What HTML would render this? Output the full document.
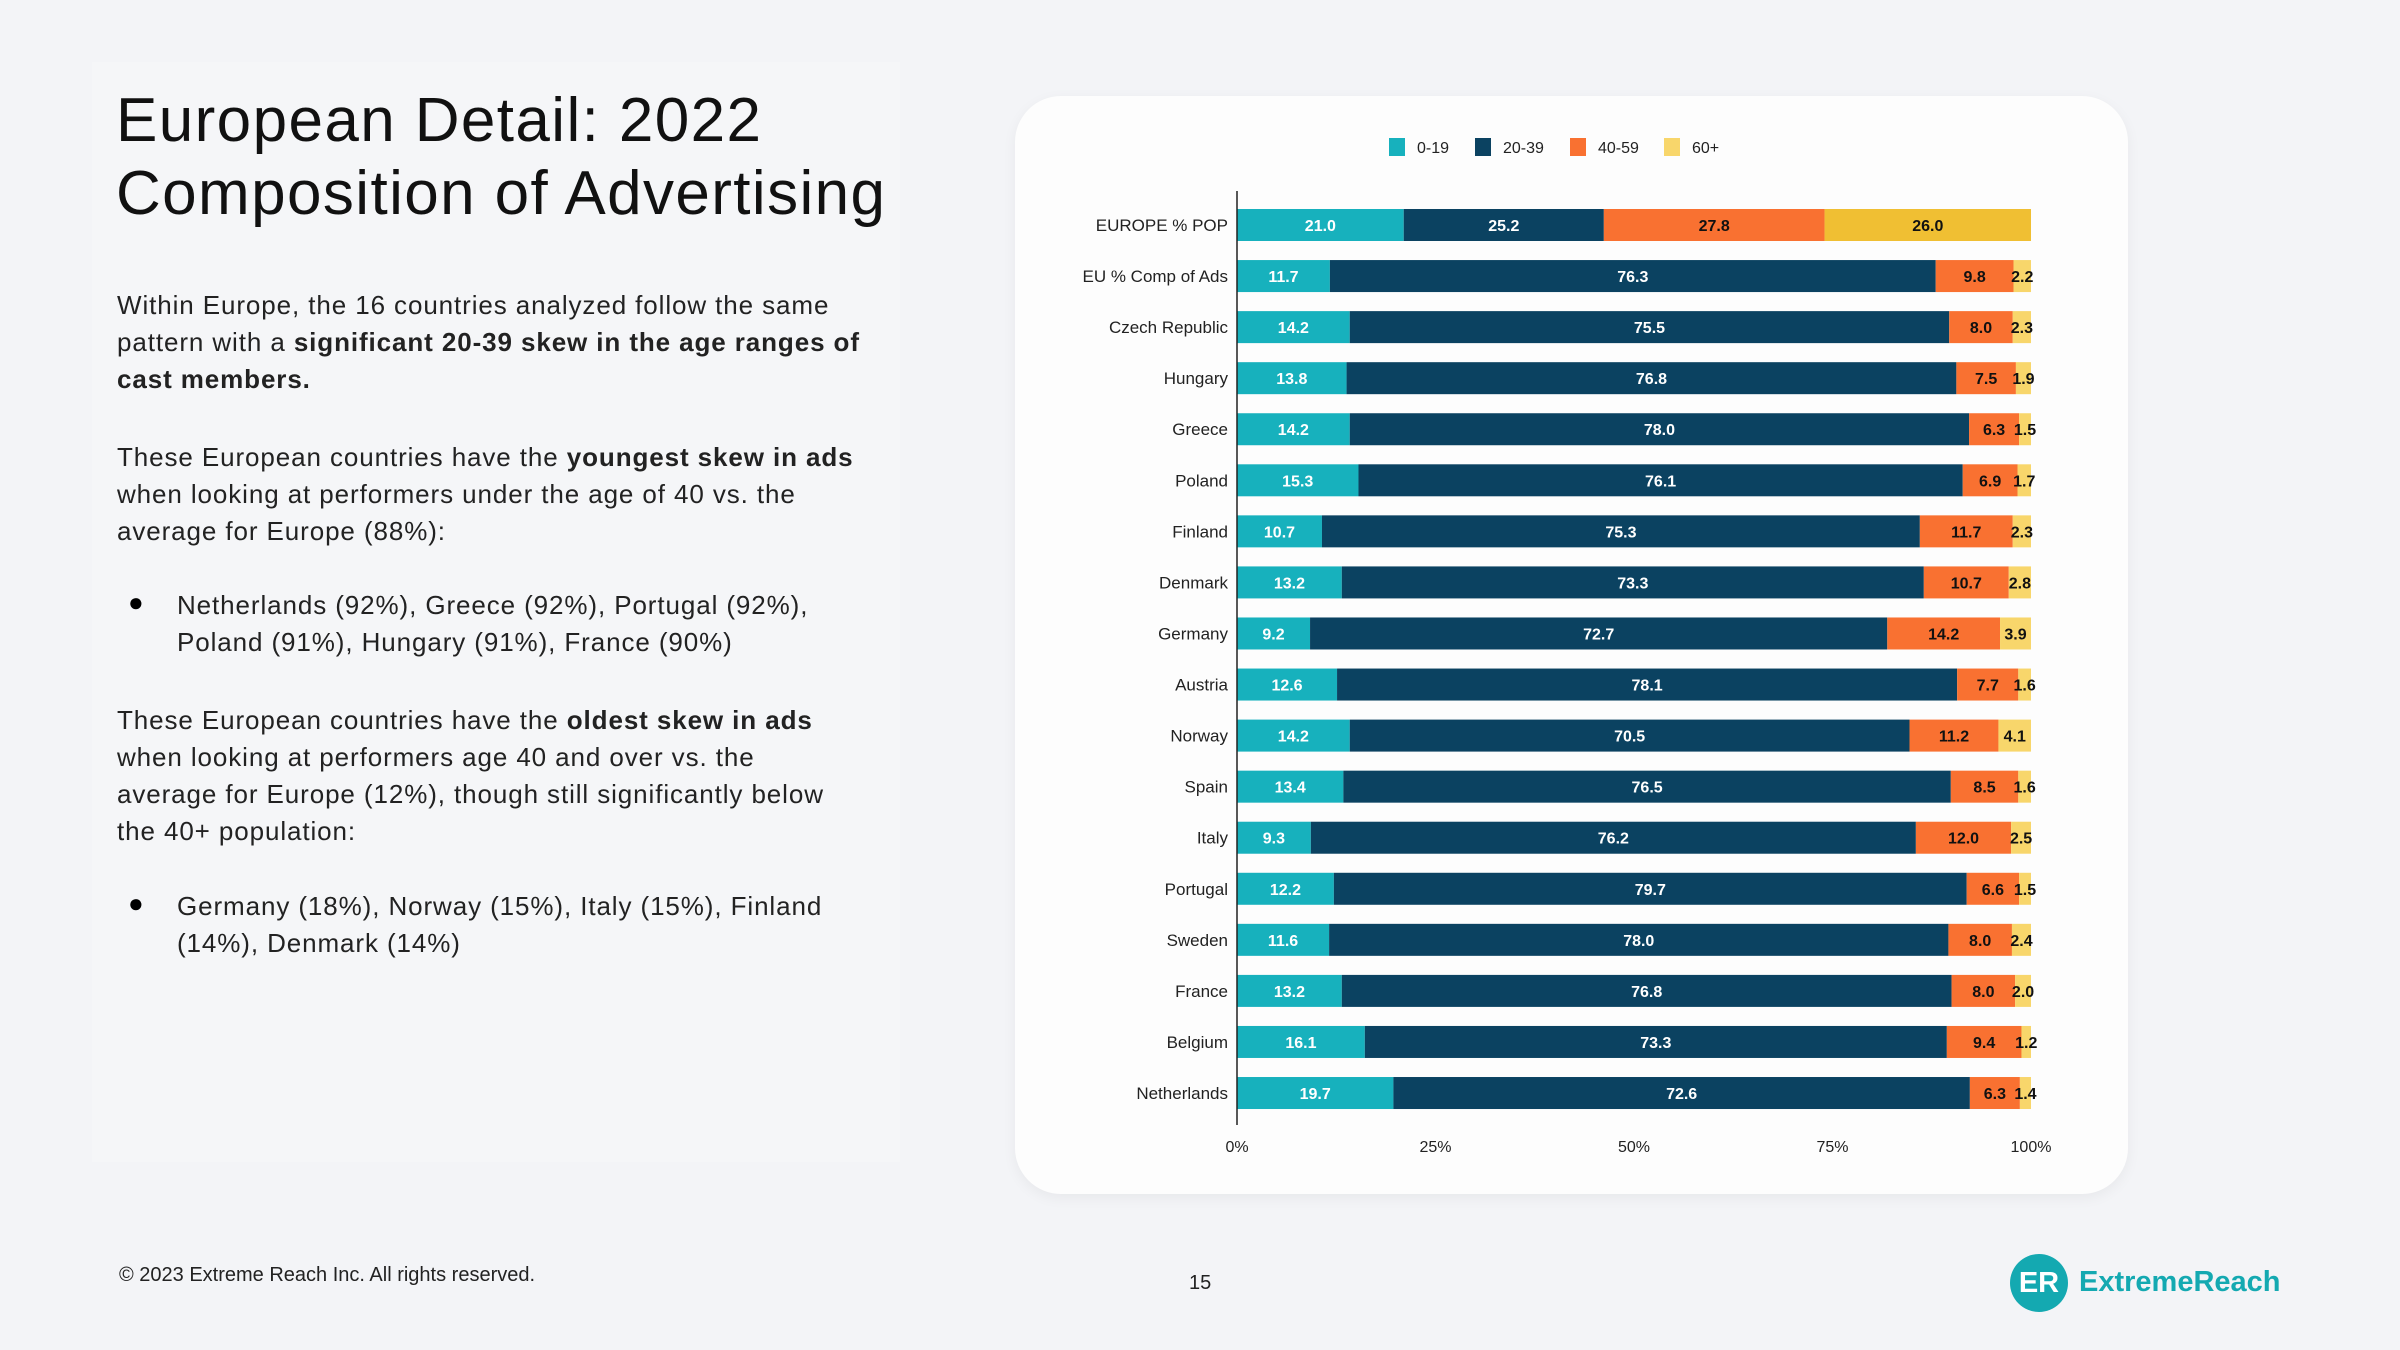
<!DOCTYPE html>
<html><head><meta charset="utf-8"><style>
body{margin:0;width:2400px;height:1350px;background:#f3f4f7;font-family:"Liberation Sans",sans-serif;position:relative;overflow:hidden}
.panel{position:absolute;left:92px;top:62px;width:808px;height:1100px;background:#f5f6f8}
h1{position:absolute;left:116px;top:84px;margin:0;font-weight:400;font-size:62px;line-height:73px;color:#111;letter-spacing:1.4px}
.txt{position:absolute;left:117px;font-size:26px;line-height:37px;color:#222;width:760px;letter-spacing:0.9px}
.bul{position:absolute;left:128px;font-size:26px}
.card{position:absolute;left:1015px;top:96px;width:1113px;height:1098px;background:#fdfdfd;border-radius:46px;box-shadow:0 4px 14px rgba(0,0,0,0.05)}
.foot{position:absolute;font-size:20px;color:#222}
</style></head><body>
<div class="panel"></div>
<h1>European Detail: 2022<br>Composition of Advertising</h1>
<div class="txt" style="top:287px">Within Europe, the 16 countries analyzed follow the same pattern with a <b>significant 20-39 skew in the age ranges of cast members.</b></div>
<div class="txt" style="top:439px">These European countries have the <b>youngest skew in ads</b> when looking at performers under the age of 40 vs. the average for Europe (88%):</div>
<div class="bul" style="top:587px">●</div>
<div class="txt" style="top:587px;left:177px;width:660px">Netherlands (92%), Greece (92%), Portugal (92%), Poland (91%), Hungary (91%), France (90%)</div>
<div class="txt" style="top:702px;width:732px">These European countries have the <b>oldest skew in ads</b> when looking at performers age 40 and over vs. the average for Europe (12%), though still significantly below the 40+ population:</div>
<div class="bul" style="top:888px">●</div>
<div class="txt" style="top:888px;left:177px;width:660px">Germany (18%), Norway (15%), Italy (15%), Finland (14%), Denmark (14%)</div>
<div class="card"></div>
<svg id="chart" width="2400" height="1350" style="position:absolute;left:0;top:0"></svg>
<div class="foot" style="left:119px;top:1264px">© 2023 Extreme Reach Inc. All rights reserved.</div>
<div class="foot" style="left:1189px;top:1272px">15</div>
<div style="position:absolute;left:2010px;top:1254px;width:58px;height:58px;border-radius:50%;background:#14a9b1;color:#fff;font-weight:700;font-size:29px;text-align:center;line-height:58px">ER</div>
<div style="position:absolute;left:2079px;top:1266px;font-size:29px;font-weight:700;color:#14a9b1">ExtremeReach</div>
<script>
const categories=["EUROPE % POP","EU % Comp of Ads","Czech Republic","Hungary","Greece","Poland","Finland","Denmark","Germany","Austria","Norway","Spain","Italy","Portugal","Sweden","France","Belgium","Netherlands"];
const s0_19=[21.0,11.7,14.2,13.8,14.2,15.3,10.7,13.2,9.2,12.6,14.2,13.4,9.3,12.2,11.6,13.2,16.1,19.7];
const s20_39=[25.2,76.3,75.5,76.8,78.0,76.1,75.3,73.3,72.7,78.1,70.5,76.5,76.2,79.7,78.0,76.8,73.3,72.6];
const s40_59=[27.8,9.8,8.0,7.5,6.3,6.9,11.7,10.7,14.2,7.7,11.2,8.5,12.0,6.6,8.0,8.0,9.4,6.3];
const s60=[26.0,2.2,2.3,1.9,1.5,1.7,2.3,2.8,3.9,1.6,4.1,1.6,2.5,1.5,2.4,2.0,1.2,1.4];
const seriesNames=["0-19","20-39","40-59","60+"];
const ticks=[0,25,50,75,100];
const tickLabels=["0%","25%","50%","75%","100%"];
const colors=["#17b1bd","#0b4261","#f97131","#f8d66b"];
const svg=document.getElementById('chart');const NS="http://www.w3.org/2000/svg";
const X0=1237,X1=2031,Y0=225,STEP=51.06,BH=32;
const x=v=>X0+(X1-X0)*v/100;const y=i=>Y0+i*STEP;
function mk(t,a){const e=document.createElementNS(NS,t);for(const k in a)e.setAttribute(k,a[k]);svg.appendChild(e);return e;}
const series=[s0_19,s20_39,s40_59,s60];
categories.forEach((c,i)=>{
 const lab=mk('text',{x:1228,y:y(i)+6,'text-anchor':'end','font-size':17,fill:'#222'});lab.textContent=c;
 
 
 const tot=series.reduce((a,s)=>a+s[i],0);let acc=0;
 series.forEach((s,k)=>{
  const v=s[i]*100/tot;
  let col=colors[k];if(i===0&&k===3)col="#f0bf33";
  const r=mk('rect',{x:x(acc),y:y(i)-BH/2,width:x(acc+v)-x(acc),height:BH,fill:col});
  
  
  const t=mk('text',{x:x(acc+v/2),y:y(i)+6,'text-anchor':'middle','font-size':16,'font-weight':700,fill:(k<2)?'#fff':'#111'});
  t.textContent=s[i].toFixed(1);
  
  
  acc+=v;
 });
});
const ax=mk('line',{x1:X0,x2:X0,y1:191,y2:1125,stroke:'#222','stroke-width':1.5});


ticks.forEach((t,i)=>{const e=mk('text',{x:x(t),y:1152,'text-anchor':'middle','font-size':16,fill:'#222'});e.textContent=tickLabels[i];
 
 });
const lx=[1389,1475,1570,1664];
seriesNames.forEach((n,k)=>{
 const r=mk('rect',{x:lx[k],y:138,width:16,height:18,fill:colors[k]});
 
 
 const t=mk('text',{x:lx[k]+28,y:153,'font-size':16,fill:'#222'});t.textContent=n;
 
 
});
</script>
</body></html>
